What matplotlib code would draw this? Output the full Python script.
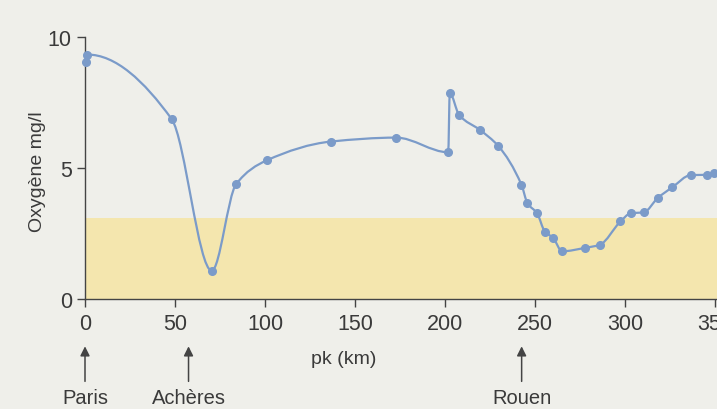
import numpy as np
import matplotlib
matplotlib.use('Agg')
import matplotlib.pyplot as plt
from matplotlib.path import Path
from matplotlib.patches import PathPatch

# Dissolved oxygen along the Seine
pk_km = [0.5, 1.3, 48.1, 70.4, 83.9, 100.9, 136.7, 172.9, 201.7, 202.6,
         207.8, 219.4, 229.4, 242.4, 245.7, 251.1, 255.4, 260.0, 265.0,
         277.6, 285.9, 297.4, 303.0, 310.4, 318.0, 326.1, 336.5, 345.2, 349.4]
oxygen = [9.06, 9.33, 6.87, 1.08, 4.38, 5.29, 6.01, 6.16, 5.60, 7.85,
          7.02, 6.45, 5.85, 4.36, 3.66, 3.27, 2.57, 2.33, 1.82,
          1.95, 2.07, 2.96, 3.27, 3.31, 3.85, 4.26, 4.73, 4.74, 4.80]
band_top = 3.1
towns = ['Paris', 'Achères', 'Rouen']
town_km = [0, 57.5, 242.5]
x_ticks = [0, 50, 100, 150, 200, 250, 300, 350]
y_ticks = [0, 5, 10]

plt.rcParams['font.family'] = ['Liberation Sans', 'DejaVu Sans']

line_col = '#7b9bc9'
txt_col = '#3a3a3a'
bg = '#efefea'


def smooth_path(x, y):
    # monotone cubic (Fritsch-Carlson) slopes, drawn as bezier segments
    x = np.asarray(x, float)
    y = np.asarray(y, float)
    h = np.diff(x)
    d = np.diff(y) / h
    m = np.zeros_like(y)
    m[0] = d[0]
    m[-1] = d[-1]
    for k in range(1, len(x) - 1):
        if d[k - 1] * d[k] <= 0:
            m[k] = 0
        else:
            w1 = 2 * h[k] + h[k - 1]
            w2 = h[k] + 2 * h[k - 1]
            m[k] = (w1 + w2) / (w1 / d[k - 1] + w2 / d[k])
    verts = [(x[0], y[0])]
    codes = [Path.MOVETO]
    for k in range(len(x) - 1):
        verts += [(x[k] + h[k] / 3, y[k] + m[k] * h[k] / 3),
                  (x[k + 1] - h[k] / 3, y[k + 1] - m[k + 1] * h[k] / 3),
                  (x[k + 1], y[k + 1])]
        codes += [Path.CURVE4] * 3
    return Path(verts, codes)


fig = plt.figure(figsize=(7.17, 4.10), dpi=100, facecolor=bg)
ax = fig.add_axes([85 / 717, 110 / 410, 632 / 717, 262 / 410])
ax.set_facecolor(bg)

ax.set_xlim(0, 351)
ax.set_ylim(0, 10)
ax.axhspan(0, band_top, color='#f4e6ae', zorder=0, lw=0)

ax.add_patch(PathPatch(smooth_path(pk_km, oxygen), facecolor='none',
                       edgecolor=line_col, lw=1.6, zorder=3))
ax.plot(pk_km, oxygen, 'o', color=line_col, ms=5.5, zorder=4, clip_on=False)

for s in ['top', 'right']:
    ax.spines[s].set_visible(False)
for s in ['left', 'bottom']:
    ax.spines[s].set_color('#444444')
    ax.spines[s].set_linewidth(1.0)

ax.set_xticks(x_ticks)
ax.set_yticks(y_ticks)
ax.tick_params(axis='both', direction='out', length=6, width=1,
               color='#444444', labelsize=15.5, labelcolor=txt_col)
ax.tick_params(axis='x', pad=4)
ax.set_ylabel('Oxygène mg/l', fontsize=14, color=txt_col)
ax.yaxis.set_label_coords(-0.062, 0.49)
ax.set_xlabel('pk (km)', fontsize=14, color=txt_col)
ax.xaxis.set_label_coords(0.41, -0.195)

trans = ax.get_xaxis_transform()
for name, km in zip(towns, town_km):
    ax.annotate('', xy=(km, -0.17), xytext=(km, -0.325), xycoords=trans,
                textcoords=trans,
                arrowprops=dict(arrowstyle='-|>', color='#444444', lw=1.1,
                                mutation_scale=14))
    ax.text(km, -0.375, name, transform=trans, ha='center', va='center',
            fontsize=14.5, color=txt_col)

fig.savefig('out.png', dpi=100, facecolor=bg)
